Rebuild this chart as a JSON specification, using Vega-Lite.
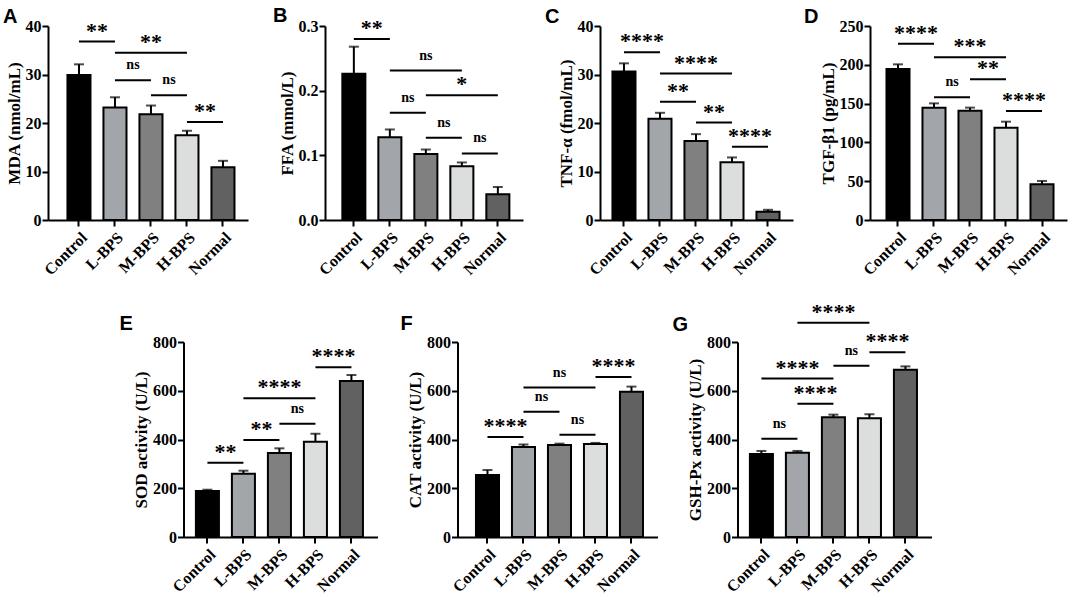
{
  "$schema": "https://vega.github.io/schema/vega-lite/v6.json",
  "description": "Seven bar panels (A-G) with error bars and significance brackets",
  "padding": {"left": 3, "top": 5, "right": 2, "bottom": 0},
  "datasets": {
    "bars": [
      {"panel": "A", "group": "Control", "mean": 29.9, "upper": 32.1},
      {"panel": "A", "group": "L-BPS", "mean": 23.2, "upper": 25.3},
      {"panel": "A", "group": "M-BPS", "mean": 21.8, "upper": 23.6},
      {"panel": "A", "group": "H-BPS", "mean": 17.5, "upper": 18.4},
      {"panel": "A", "group": "Normal", "mean": 10.9, "upper": 12.2},
      {"panel": "B", "group": "Control", "mean": 0.226, "upper": 0.268},
      {"panel": "B", "group": "L-BPS", "mean": 0.128, "upper": 0.14},
      {"panel": "B", "group": "M-BPS", "mean": 0.102, "upper": 0.109},
      {"panel": "B", "group": "H-BPS", "mean": 0.083, "upper": 0.089},
      {"panel": "B", "group": "Normal", "mean": 0.04, "upper": 0.051},
      {"panel": "C", "group": "Control", "mean": 30.6, "upper": 32.3},
      {"panel": "C", "group": "L-BPS", "mean": 20.9, "upper": 22.1},
      {"panel": "C", "group": "M-BPS", "mean": 16.3, "upper": 17.7},
      {"panel": "C", "group": "H-BPS", "mean": 11.9, "upper": 12.9},
      {"panel": "C", "group": "Normal", "mean": 1.7, "upper": 2.1},
      {"panel": "D", "group": "Control", "mean": 194.6, "upper": 200.6},
      {"panel": "D", "group": "L-BPS", "mean": 144.8, "upper": 150.3},
      {"panel": "D", "group": "M-BPS", "mean": 140.9, "upper": 144.8},
      {"panel": "D", "group": "H-BPS", "mean": 119.0, "upper": 126.7},
      {"panel": "D", "group": "Normal", "mean": 46.0, "upper": 50.3},
      {"panel": "E", "group": "Control", "mean": 188.7, "upper": 194},
      {"panel": "E", "group": "L-BPS", "mean": 259.8, "upper": 272},
      {"panel": "E", "group": "M-BPS", "mean": 344.6, "upper": 363.8},
      {"panel": "E", "group": "H-BPS", "mean": 391.1, "upper": 424},
      {"panel": "E", "group": "Normal", "mean": 640, "upper": 664.6},
      {"panel": "F", "group": "Control", "mean": 254, "upper": 275},
      {"panel": "F", "group": "L-BPS", "mean": 369, "upper": 380},
      {"panel": "F", "group": "M-BPS", "mean": 377, "upper": 383},
      {"panel": "F", "group": "H-BPS", "mean": 381.5, "upper": 386},
      {"panel": "F", "group": "Normal", "mean": 596, "upper": 617},
      {"panel": "G", "group": "Control", "mean": 340.5, "upper": 353},
      {"panel": "G", "group": "L-BPS", "mean": 346, "upper": 353},
      {"panel": "G", "group": "M-BPS", "mean": 491, "upper": 502},
      {"panel": "G", "group": "H-BPS", "mean": 487, "upper": 504},
      {"panel": "G", "group": "Normal", "mean": 686.5, "upper": 700}
    ],
    "sig": [
      {"panel": "A", "g1": "Control", "g2": "L-BPS", "mid": "Control", "span": 1, "line": 36.8, "label": "**"},
      {"panel": "A", "g1": "L-BPS", "g2": "H-BPS", "mid": "M-BPS", "span": 2, "line": 34.5, "label": "**"},
      {"panel": "A", "g1": "L-BPS", "g2": "M-BPS", "mid": "L-BPS", "span": 1, "line": 28.8, "label": "ns"},
      {"panel": "A", "g1": "M-BPS", "g2": "H-BPS", "mid": "M-BPS", "span": 1, "line": 25.7, "label": "ns"},
      {"panel": "A", "g1": "H-BPS", "g2": "Normal", "mid": "H-BPS", "span": 1, "line": 20.2, "label": "**"},
      {"panel": "B", "g1": "Control", "g2": "L-BPS", "mid": "Control", "span": 1, "line": 0.28, "label": "**"},
      {"panel": "B", "g1": "L-BPS", "g2": "H-BPS", "mid": "M-BPS", "span": 2, "line": 0.231, "label": "ns"},
      {"panel": "B", "g1": "M-BPS", "g2": "Normal", "mid": "H-BPS", "span": 2, "line": 0.193, "label": "*"},
      {"panel": "B", "g1": "L-BPS", "g2": "M-BPS", "mid": "L-BPS", "span": 1, "line": 0.166, "label": "ns"},
      {"panel": "B", "g1": "M-BPS", "g2": "H-BPS", "mid": "M-BPS", "span": 1, "line": 0.127, "label": "ns"},
      {"panel": "B", "g1": "H-BPS", "g2": "Normal", "mid": "H-BPS", "span": 1, "line": 0.103, "label": "ns"},
      {"panel": "C", "g1": "Control", "g2": "L-BPS", "mid": "Control", "span": 1, "line": 34.6, "label": "****"},
      {"panel": "C", "g1": "L-BPS", "g2": "H-BPS", "mid": "M-BPS", "span": 2, "line": 30.2, "label": "****"},
      {"panel": "C", "g1": "L-BPS", "g2": "M-BPS", "mid": "L-BPS", "span": 1, "line": 24.4, "label": "**"},
      {"panel": "C", "g1": "M-BPS", "g2": "H-BPS", "mid": "M-BPS", "span": 1, "line": 20.1, "label": "**"},
      {"panel": "C", "g1": "H-BPS", "g2": "Normal", "mid": "H-BPS", "span": 1, "line": 15.1, "label": "****"},
      {"panel": "D", "g1": "Control", "g2": "L-BPS", "mid": "Control", "span": 1, "line": 227.2, "label": "****"},
      {"panel": "D", "g1": "L-BPS", "g2": "H-BPS", "mid": "M-BPS", "span": 2, "line": 209.6, "label": "***"},
      {"panel": "D", "g1": "M-BPS", "g2": "H-BPS", "mid": "M-BPS", "span": 1, "line": 181.3, "label": "**"},
      {"panel": "D", "g1": "L-BPS", "g2": "M-BPS", "mid": "L-BPS", "span": 1, "line": 158.1, "label": "ns"},
      {"panel": "D", "g1": "H-BPS", "g2": "Normal", "mid": "H-BPS", "span": 1, "line": 140.5, "label": "****"},
      {"panel": "E", "g1": "Control", "g2": "L-BPS", "mid": "Control", "span": 1, "line": 305, "label": "**"},
      {"panel": "E", "g1": "L-BPS", "g2": "M-BPS", "mid": "L-BPS", "span": 1, "line": 398, "label": "**"},
      {"panel": "E", "g1": "M-BPS", "g2": "H-BPS", "mid": "M-BPS", "span": 1, "line": 465, "label": "ns"},
      {"panel": "E", "g1": "L-BPS", "g2": "H-BPS", "mid": "M-BPS", "span": 2, "line": 569, "label": "****"},
      {"panel": "E", "g1": "H-BPS", "g2": "Normal", "mid": "H-BPS", "span": 1, "line": 696, "label": "****"},
      {"panel": "F", "g1": "Control", "g2": "L-BPS", "mid": "Control", "span": 1, "line": 410, "label": "****"},
      {"panel": "F", "g1": "L-BPS", "g2": "H-BPS", "mid": "M-BPS", "span": 2, "line": 613, "label": "ns"},
      {"panel": "F", "g1": "L-BPS", "g2": "M-BPS", "mid": "L-BPS", "span": 1, "line": 514, "label": "ns"},
      {"panel": "F", "g1": "M-BPS", "g2": "H-BPS", "mid": "M-BPS", "span": 1, "line": 420, "label": "ns"},
      {"panel": "F", "g1": "H-BPS", "g2": "Normal", "mid": "H-BPS", "span": 1, "line": 656, "label": "****"},
      {"panel": "G", "g1": "Control", "g2": "L-BPS", "mid": "Control", "span": 1, "line": 403, "label": "ns"},
      {"panel": "G", "g1": "L-BPS", "g2": "M-BPS", "mid": "L-BPS", "span": 1, "line": 547, "label": "****"},
      {"panel": "G", "g1": "Control", "g2": "M-BPS", "mid": "L-BPS", "span": 2, "line": 650, "label": "****"},
      {"panel": "G", "g1": "M-BPS", "g2": "H-BPS", "mid": "M-BPS", "span": 1, "line": 703, "label": "ns"},
      {"panel": "G", "g1": "H-BPS", "g2": "Normal", "mid": "H-BPS", "span": 1, "line": 758, "label": "****"},
      {"panel": "G", "g1": "L-BPS", "g2": "H-BPS", "mid": "M-BPS", "span": 2, "line": 879, "label": "****"}
    ]
  },
  "vconcat": [
    {
      "hconcat": [
        {
          "width": 200, "height": 194,
          "title": {"text": "A", "dx": -45, "dy": 14, "offset": 5},
          "layer": [
            {"data": {"name": "bars"}, "transform": [{"filter": "datum.panel === 'A'"}],
             "layer": [
              {"mark": {"type": "bar", "stroke": "#000", "strokeWidth": 2},
               "encoding": {
                "x": {"field": "group", "type": "nominal", "title": null, "scale": {"domain": ["Control", "L-BPS", "M-BPS", "H-BPS", "Normal"], "paddingInner": 0.36, "paddingOuter": 0.458, "align": 0.59}},
                "y": {"field": "mean", "type": "quantitative", "title": "MDA (nmol/mL)", "scale": {"domain": [0, 40], "nice": false}, "axis": {"values": [0, 10, 20, 30, 40], "labelOverlap": false}},
                "fill": {"field": "group", "type": "nominal", "legend": null, "scale": {"domain": ["Control", "L-BPS", "M-BPS", "H-BPS", "Normal"], "range": ["#000000", "#a2a5aa", "#808080", "#dcdede", "#616161"]}}}},
              {"mark": {"type": "rule", "color": "#000", "strokeWidth": 2},
               "encoding": {"x": {"field": "group", "type": "nominal"}, "y": {"field": "mean", "type": "quantitative"}, "y2": {"field": "upper"}}},
              {"mark": {"type": "tick", "color": "#000", "size": 10, "thickness": 2},
               "encoding": {"x": {"field": "group", "type": "nominal"}, "y": {"field": "upper", "type": "quantitative"}}}
             ]},
            {"data": {"name": "sig"}, "transform": [{"filter": "datum.panel === 'A'"}],
             "layer": [
              {"mark": {"type": "rule", "color": "#000", "strokeWidth": 2},
               "encoding": {"x": {"field": "g1", "type": "nominal"}, "x2": {"field": "g2"}, "y": {"field": "line", "type": "quantitative"}}},
              {"transform": [{"filter": "datum.span === 1 && datum.label !== 'ns'"}],
               "mark": {"type": "text", "font": "Liberation Serif", "fontWeight": "bold", "fontSize": 22, "baseline": "alphabetic", "dy": -4, "color": "#000"},
               "encoding": {"x": {"field": "mid", "type": "nominal", "bandPosition": 1.28125}, "y": {"field": "line", "type": "quantitative"}, "text": {"field": "label"}}},
              {"transform": [{"filter": "datum.span === 2 && datum.label !== 'ns'"}],
               "mark": {"type": "text", "font": "Liberation Serif", "fontWeight": "bold", "fontSize": 22, "baseline": "alphabetic", "dy": -4, "color": "#000"},
               "encoding": {"x": {"field": "mid", "type": "nominal", "bandPosition": 0.5}, "y": {"field": "line", "type": "quantitative"}, "text": {"field": "label"}}},
              {"transform": [{"filter": "datum.span === 1 && datum.label === 'ns'"}],
               "mark": {"type": "text", "font": "Liberation Serif", "fontWeight": "bold", "fontSize": 14, "baseline": "alphabetic", "dy": -11, "color": "#000"},
               "encoding": {"x": {"field": "mid", "type": "nominal", "bandPosition": 1.28125}, "y": {"field": "line", "type": "quantitative"}, "text": {"field": "label"}}},
              {"transform": [{"filter": "datum.span === 2 && datum.label === 'ns'"}],
               "mark": {"type": "text", "font": "Liberation Serif", "fontWeight": "bold", "fontSize": 14, "baseline": "alphabetic", "dy": -11, "color": "#000"},
               "encoding": {"x": {"field": "mid", "type": "nominal", "bandPosition": 0.5}, "y": {"field": "line", "type": "quantitative"}, "text": {"field": "label"}}}
             ]}
          ]
        },
        {
          "width": 198, "height": 194,
          "title": {"text": "B", "dx": -52, "dy": 14, "offset": 5},
          "layer": [
            {"data": {"name": "bars"}, "transform": [{"filter": "datum.panel === 'B'"}],
             "layer": [
              {"mark": {"type": "bar", "stroke": "#000", "strokeWidth": 2},
               "encoding": {
                "x": {"field": "group", "type": "nominal", "title": null, "scale": {"domain": ["Control", "L-BPS", "M-BPS", "H-BPS", "Normal"], "paddingInner": 0.36, "paddingOuter": 0.43, "align": 0.56}},
                "y": {"field": "mean", "type": "quantitative", "title": "FFA (mmol/L)", "scale": {"domain": [0, 0.3], "nice": false}, "axis": {"values": [0, 0.1, 0.2, 0.3], "format": ".1f", "labelOverlap": false}},
                "fill": {"field": "group", "type": "nominal", "legend": null, "scale": {"domain": ["Control", "L-BPS", "M-BPS", "H-BPS", "Normal"], "range": ["#000000", "#a2a5aa", "#808080", "#dcdede", "#616161"]}}}},
              {"mark": {"type": "rule", "color": "#000", "strokeWidth": 2},
               "encoding": {"x": {"field": "group", "type": "nominal"}, "y": {"field": "mean", "type": "quantitative"}, "y2": {"field": "upper"}}},
              {"mark": {"type": "tick", "color": "#000", "size": 10, "thickness": 2},
               "encoding": {"x": {"field": "group", "type": "nominal"}, "y": {"field": "upper", "type": "quantitative"}}}
             ]},
            {"data": {"name": "sig"}, "transform": [{"filter": "datum.panel === 'B'"}],
             "layer": [
              {"mark": {"type": "rule", "color": "#000", "strokeWidth": 2},
               "encoding": {"x": {"field": "g1", "type": "nominal"}, "x2": {"field": "g2"}, "y": {"field": "line", "type": "quantitative"}}},
              {"transform": [{"filter": "datum.span === 1 && datum.label !== 'ns'"}],
               "mark": {"type": "text", "font": "Liberation Serif", "fontWeight": "bold", "fontSize": 22, "baseline": "alphabetic", "dy": -4, "color": "#000"},
               "encoding": {"x": {"field": "mid", "type": "nominal", "bandPosition": 1.28125}, "y": {"field": "line", "type": "quantitative"}, "text": {"field": "label"}}},
              {"transform": [{"filter": "datum.span === 2 && datum.label !== 'ns'"}],
               "mark": {"type": "text", "font": "Liberation Serif", "fontWeight": "bold", "fontSize": 22, "baseline": "alphabetic", "dy": -4, "color": "#000"},
               "encoding": {"x": {"field": "mid", "type": "nominal", "bandPosition": 0.5}, "y": {"field": "line", "type": "quantitative"}, "text": {"field": "label"}}},
              {"transform": [{"filter": "datum.span === 1 && datum.label === 'ns'"}],
               "mark": {"type": "text", "font": "Liberation Serif", "fontWeight": "bold", "fontSize": 14, "baseline": "alphabetic", "dy": -11, "color": "#000"},
               "encoding": {"x": {"field": "mid", "type": "nominal", "bandPosition": 1.28125}, "y": {"field": "line", "type": "quantitative"}, "text": {"field": "label"}}},
              {"transform": [{"filter": "datum.span === 2 && datum.label === 'ns'"}],
               "mark": {"type": "text", "font": "Liberation Serif", "fontWeight": "bold", "fontSize": 14, "baseline": "alphabetic", "dy": -11, "color": "#000"},
               "encoding": {"x": {"field": "mid", "type": "nominal", "bandPosition": 0.5}, "y": {"field": "line", "type": "quantitative"}, "text": {"field": "label"}}}
             ]}
          ]
        },
        {
          "width": 193, "height": 194,
          "title": {"text": "C", "dx": -55, "dy": 14, "offset": 5},
          "layer": [
            {"data": {"name": "bars"}, "transform": [{"filter": "datum.panel === 'C'"}],
             "layer": [
              {"mark": {"type": "bar", "stroke": "#000", "strokeWidth": 2},
               "encoding": {
                "x": {"field": "group", "type": "nominal", "title": null, "scale": {"domain": ["Control", "L-BPS", "M-BPS", "H-BPS", "Normal"], "paddingInner": 0.36, "paddingOuter": 0.36, "align": 0.48}},
                "y": {"field": "mean", "type": "quantitative", "title": "TNF-α (fmol/mL)", "scale": {"domain": [0, 40], "nice": false}, "axis": {"values": [0, 10, 20, 30, 40], "labelOverlap": false}},
                "fill": {"field": "group", "type": "nominal", "legend": null, "scale": {"domain": ["Control", "L-BPS", "M-BPS", "H-BPS", "Normal"], "range": ["#000000", "#a2a5aa", "#808080", "#dcdede", "#616161"]}}}},
              {"mark": {"type": "rule", "color": "#000", "strokeWidth": 2},
               "encoding": {"x": {"field": "group", "type": "nominal"}, "y": {"field": "mean", "type": "quantitative"}, "y2": {"field": "upper"}}},
              {"mark": {"type": "tick", "color": "#000", "size": 10, "thickness": 2},
               "encoding": {"x": {"field": "group", "type": "nominal"}, "y": {"field": "upper", "type": "quantitative"}}}
             ]},
            {"data": {"name": "sig"}, "transform": [{"filter": "datum.panel === 'C'"}],
             "layer": [
              {"mark": {"type": "rule", "color": "#000", "strokeWidth": 2},
               "encoding": {"x": {"field": "g1", "type": "nominal"}, "x2": {"field": "g2"}, "y": {"field": "line", "type": "quantitative"}}},
              {"transform": [{"filter": "datum.span === 1 && datum.label !== 'ns'"}],
               "mark": {"type": "text", "font": "Liberation Serif", "fontWeight": "bold", "fontSize": 22, "baseline": "alphabetic", "dy": -4, "color": "#000"},
               "encoding": {"x": {"field": "mid", "type": "nominal", "bandPosition": 1.28125}, "y": {"field": "line", "type": "quantitative"}, "text": {"field": "label"}}},
              {"transform": [{"filter": "datum.span === 2 && datum.label !== 'ns'"}],
               "mark": {"type": "text", "font": "Liberation Serif", "fontWeight": "bold", "fontSize": 22, "baseline": "alphabetic", "dy": -4, "color": "#000"},
               "encoding": {"x": {"field": "mid", "type": "nominal", "bandPosition": 0.5}, "y": {"field": "line", "type": "quantitative"}, "text": {"field": "label"}}},
              {"transform": [{"filter": "datum.span === 1 && datum.label === 'ns'"}],
               "mark": {"type": "text", "font": "Liberation Serif", "fontWeight": "bold", "fontSize": 14, "baseline": "alphabetic", "dy": -11, "color": "#000"},
               "encoding": {"x": {"field": "mid", "type": "nominal", "bandPosition": 1.28125}, "y": {"field": "line", "type": "quantitative"}, "text": {"field": "label"}}},
              {"transform": [{"filter": "datum.span === 2 && datum.label === 'ns'"}],
               "mark": {"type": "text", "font": "Liberation Serif", "fontWeight": "bold", "fontSize": 14, "baseline": "alphabetic", "dy": -11, "color": "#000"},
               "encoding": {"x": {"field": "mid", "type": "nominal", "bandPosition": 0.5}, "y": {"field": "line", "type": "quantitative"}, "text": {"field": "label"}}}
             ]}
          ]
        },
        {
          "width": 197, "height": 194,
          "title": {"text": "D", "dx": -66, "dy": 14, "offset": 5},
          "layer": [
            {"data": {"name": "bars"}, "transform": [{"filter": "datum.panel === 'D'"}],
             "layer": [
              {"mark": {"type": "bar", "stroke": "#000", "strokeWidth": 2},
               "encoding": {
                "x": {"field": "group", "type": "nominal", "title": null, "scale": {"domain": ["Control", "L-BPS", "M-BPS", "H-BPS", "Normal"], "paddingInner": 0.36, "paddingOuter": 0.416, "align": 0.55}},
                "y": {"field": "mean", "type": "quantitative", "title": "TGF-β1 (pg/mL)", "scale": {"domain": [0, 250], "nice": false}, "axis": {"values": [0, 50, 100, 150, 200, 250], "tickCount": 6, "labelOverlap": false, "labelSeparation": 0}},
                "fill": {"field": "group", "type": "nominal", "legend": null, "scale": {"domain": ["Control", "L-BPS", "M-BPS", "H-BPS", "Normal"], "range": ["#000000", "#a2a5aa", "#808080", "#dcdede", "#616161"]}}}},
              {"mark": {"type": "rule", "color": "#000", "strokeWidth": 2},
               "encoding": {"x": {"field": "group", "type": "nominal"}, "y": {"field": "mean", "type": "quantitative"}, "y2": {"field": "upper"}}},
              {"mark": {"type": "tick", "color": "#000", "size": 10, "thickness": 2},
               "encoding": {"x": {"field": "group", "type": "nominal"}, "y": {"field": "upper", "type": "quantitative"}}}
             ]},
            {"data": {"name": "sig"}, "transform": [{"filter": "datum.panel === 'D'"}],
             "layer": [
              {"mark": {"type": "rule", "color": "#000", "strokeWidth": 2},
               "encoding": {"x": {"field": "g1", "type": "nominal"}, "x2": {"field": "g2"}, "y": {"field": "line", "type": "quantitative"}}},
              {"transform": [{"filter": "datum.span === 1 && datum.label !== 'ns'"}],
               "mark": {"type": "text", "font": "Liberation Serif", "fontWeight": "bold", "fontSize": 22, "baseline": "alphabetic", "dy": -4, "color": "#000"},
               "encoding": {"x": {"field": "mid", "type": "nominal", "bandPosition": 1.28125}, "y": {"field": "line", "type": "quantitative"}, "text": {"field": "label"}}},
              {"transform": [{"filter": "datum.span === 2 && datum.label !== 'ns'"}],
               "mark": {"type": "text", "font": "Liberation Serif", "fontWeight": "bold", "fontSize": 22, "baseline": "alphabetic", "dy": -4, "color": "#000"},
               "encoding": {"x": {"field": "mid", "type": "nominal", "bandPosition": 0.5}, "y": {"field": "line", "type": "quantitative"}, "text": {"field": "label"}}},
              {"transform": [{"filter": "datum.span === 1 && datum.label === 'ns'"}],
               "mark": {"type": "text", "font": "Liberation Serif", "fontWeight": "bold", "fontSize": 14, "baseline": "alphabetic", "dy": -11, "color": "#000"},
               "encoding": {"x": {"field": "mid", "type": "nominal", "bandPosition": 1.28125}, "y": {"field": "line", "type": "quantitative"}, "text": {"field": "label"}}},
              {"transform": [{"filter": "datum.span === 2 && datum.label === 'ns'"}],
               "mark": {"type": "text", "font": "Liberation Serif", "fontWeight": "bold", "fontSize": 14, "baseline": "alphabetic", "dy": -11, "color": "#000"},
               "encoding": {"x": {"field": "mid", "type": "nominal", "bandPosition": 0.5}, "y": {"field": "line", "type": "quantitative"}, "text": {"field": "label"}}}
             ]}
          ]
        }
      ],
      "spacing": 77,
      "bounds": "flush"
    },
    {
      "hconcat": [
        {
          "width": 194, "height": 195,
          "title": {"text": "E", "dx": -64, "dy": 12, "offset": 12},
          "layer": [
            {"data": {"name": "bars"}, "transform": [{"filter": "datum.panel === 'E'"}],
             "layer": [
              {"mark": {"type": "bar", "stroke": "#000", "strokeWidth": 2},
               "encoding": {
                "x": {"field": "group", "type": "nominal", "title": null, "scale": {"domain": ["Control", "L-BPS", "M-BPS", "H-BPS", "Normal"], "paddingInner": 0.36, "paddingOuter": 0.374, "align": 0.46}},
                "y": {"field": "mean", "type": "quantitative", "title": "SOD activity (U/L)", "scale": {"domain": [0, 800], "nice": false}, "axis": {"values": [0, 200, 400, 600, 800], "labelOverlap": false}},
                "fill": {"field": "group", "type": "nominal", "legend": null, "scale": {"domain": ["Control", "L-BPS", "M-BPS", "H-BPS", "Normal"], "range": ["#000000", "#a2a5aa", "#808080", "#dcdede", "#616161"]}}}},
              {"mark": {"type": "rule", "color": "#000", "strokeWidth": 2},
               "encoding": {"x": {"field": "group", "type": "nominal"}, "y": {"field": "mean", "type": "quantitative"}, "y2": {"field": "upper"}}},
              {"mark": {"type": "tick", "color": "#000", "size": 10, "thickness": 2},
               "encoding": {"x": {"field": "group", "type": "nominal"}, "y": {"field": "upper", "type": "quantitative"}}}
             ]},
            {"data": {"name": "sig"}, "transform": [{"filter": "datum.panel === 'E'"}],
             "layer": [
              {"mark": {"type": "rule", "color": "#000", "strokeWidth": 2},
               "encoding": {"x": {"field": "g1", "type": "nominal"}, "x2": {"field": "g2"}, "y": {"field": "line", "type": "quantitative"}}},
              {"transform": [{"filter": "datum.span === 1 && datum.label !== 'ns'"}],
               "mark": {"type": "text", "font": "Liberation Serif", "fontWeight": "bold", "fontSize": 22, "baseline": "alphabetic", "dy": -4, "color": "#000"},
               "encoding": {"x": {"field": "mid", "type": "nominal", "bandPosition": 1.28125}, "y": {"field": "line", "type": "quantitative"}, "text": {"field": "label"}}},
              {"transform": [{"filter": "datum.span === 2 && datum.label !== 'ns'"}],
               "mark": {"type": "text", "font": "Liberation Serif", "fontWeight": "bold", "fontSize": 22, "baseline": "alphabetic", "dy": -4, "color": "#000"},
               "encoding": {"x": {"field": "mid", "type": "nominal", "bandPosition": 0.5}, "y": {"field": "line", "type": "quantitative"}, "text": {"field": "label"}}},
              {"transform": [{"filter": "datum.span === 1 && datum.label === 'ns'"}],
               "mark": {"type": "text", "font": "Liberation Serif", "fontWeight": "bold", "fontSize": 14, "baseline": "alphabetic", "dy": -11, "color": "#000"},
               "encoding": {"x": {"field": "mid", "type": "nominal", "bandPosition": 1.28125}, "y": {"field": "line", "type": "quantitative"}, "text": {"field": "label"}}},
              {"transform": [{"filter": "datum.span === 2 && datum.label === 'ns'"}],
               "mark": {"type": "text", "font": "Liberation Serif", "fontWeight": "bold", "fontSize": 14, "baseline": "alphabetic", "dy": -11, "color": "#000"},
               "encoding": {"x": {"field": "mid", "type": "nominal", "bandPosition": 0.5}, "y": {"field": "line", "type": "quantitative"}, "text": {"field": "label"}}}
             ]}
          ]
        },
        {
          "width": 200, "height": 195,
          "title": {"text": "F", "dx": -57, "dy": 12, "offset": 12},
          "layer": [
            {"data": {"name": "bars"}, "transform": [{"filter": "datum.panel === 'F'"}],
             "layer": [
              {"mark": {"type": "bar", "stroke": "#000", "strokeWidth": 2},
               "encoding": {
                "x": {"field": "group", "type": "nominal", "title": null, "scale": {"domain": ["Control", "L-BPS", "M-BPS", "H-BPS", "Normal"], "paddingInner": 0.36, "paddingOuter": 0.458, "align": 0.56}},
                "y": {"field": "mean", "type": "quantitative", "title": "CAT activity (U/L)", "scale": {"domain": [0, 800], "nice": false}, "axis": {"values": [0, 200, 400, 600, 800], "labelOverlap": false}},
                "fill": {"field": "group", "type": "nominal", "legend": null, "scale": {"domain": ["Control", "L-BPS", "M-BPS", "H-BPS", "Normal"], "range": ["#000000", "#a2a5aa", "#808080", "#dcdede", "#616161"]}}}},
              {"mark": {"type": "rule", "color": "#000", "strokeWidth": 2},
               "encoding": {"x": {"field": "group", "type": "nominal"}, "y": {"field": "mean", "type": "quantitative"}, "y2": {"field": "upper"}}},
              {"mark": {"type": "tick", "color": "#000", "size": 10, "thickness": 2},
               "encoding": {"x": {"field": "group", "type": "nominal"}, "y": {"field": "upper", "type": "quantitative"}}}
             ]},
            {"data": {"name": "sig"}, "transform": [{"filter": "datum.panel === 'F'"}],
             "layer": [
              {"mark": {"type": "rule", "color": "#000", "strokeWidth": 2},
               "encoding": {"x": {"field": "g1", "type": "nominal"}, "x2": {"field": "g2"}, "y": {"field": "line", "type": "quantitative"}}},
              {"transform": [{"filter": "datum.span === 1 && datum.label !== 'ns'"}],
               "mark": {"type": "text", "font": "Liberation Serif", "fontWeight": "bold", "fontSize": 22, "baseline": "alphabetic", "dy": -4, "color": "#000"},
               "encoding": {"x": {"field": "mid", "type": "nominal", "bandPosition": 1.28125}, "y": {"field": "line", "type": "quantitative"}, "text": {"field": "label"}}},
              {"transform": [{"filter": "datum.span === 2 && datum.label !== 'ns'"}],
               "mark": {"type": "text", "font": "Liberation Serif", "fontWeight": "bold", "fontSize": 22, "baseline": "alphabetic", "dy": -4, "color": "#000"},
               "encoding": {"x": {"field": "mid", "type": "nominal", "bandPosition": 0.5}, "y": {"field": "line", "type": "quantitative"}, "text": {"field": "label"}}},
              {"transform": [{"filter": "datum.span === 1 && datum.label === 'ns'"}],
               "mark": {"type": "text", "font": "Liberation Serif", "fontWeight": "bold", "fontSize": 14, "baseline": "alphabetic", "dy": -11, "color": "#000"},
               "encoding": {"x": {"field": "mid", "type": "nominal", "bandPosition": 1.28125}, "y": {"field": "line", "type": "quantitative"}, "text": {"field": "label"}}},
              {"transform": [{"filter": "datum.span === 2 && datum.label === 'ns'"}],
               "mark": {"type": "text", "font": "Liberation Serif", "fontWeight": "bold", "fontSize": 14, "baseline": "alphabetic", "dy": -11, "color": "#000"},
               "encoding": {"x": {"field": "mid", "type": "nominal", "bandPosition": 0.5}, "y": {"field": "line", "type": "quantitative"}, "text": {"field": "label"}}}
             ]}
          ]
        },
        {
          "width": 194, "height": 195,
          "title": {"text": "G", "dx": -65, "dy": 46, "offset": 12},
          "layer": [
            {"data": {"name": "bars"}, "transform": [{"filter": "datum.panel === 'G'"}],
             "layer": [
              {"mark": {"type": "bar", "stroke": "#000", "strokeWidth": 2},
               "encoding": {
                "x": {"field": "group", "type": "nominal", "title": null, "scale": {"domain": ["Control", "L-BPS", "M-BPS", "H-BPS", "Normal"], "paddingInner": 0.36, "paddingOuter": 0.374, "align": 0.46}},
                "y": {"field": "mean", "type": "quantitative", "title": "GSH-Px activity (U/L)", "scale": {"domain": [0, 800], "nice": false}, "axis": {"values": [0, 200, 400, 600, 800], "labelOverlap": false}},
                "fill": {"field": "group", "type": "nominal", "legend": null, "scale": {"domain": ["Control", "L-BPS", "M-BPS", "H-BPS", "Normal"], "range": ["#000000", "#a2a5aa", "#808080", "#dcdede", "#616161"]}}}},
              {"mark": {"type": "rule", "color": "#000", "strokeWidth": 2},
               "encoding": {"x": {"field": "group", "type": "nominal"}, "y": {"field": "mean", "type": "quantitative"}, "y2": {"field": "upper"}}},
              {"mark": {"type": "tick", "color": "#000", "size": 10, "thickness": 2},
               "encoding": {"x": {"field": "group", "type": "nominal"}, "y": {"field": "upper", "type": "quantitative"}}}
             ]},
            {"data": {"name": "sig"}, "transform": [{"filter": "datum.panel === 'G'"}],
             "layer": [
              {"mark": {"type": "rule", "color": "#000", "strokeWidth": 2},
               "encoding": {"x": {"field": "g1", "type": "nominal"}, "x2": {"field": "g2"}, "y": {"field": "line", "type": "quantitative"}}},
              {"transform": [{"filter": "datum.span === 1 && datum.label !== 'ns'"}],
               "mark": {"type": "text", "font": "Liberation Serif", "fontWeight": "bold", "fontSize": 22, "baseline": "alphabetic", "dy": -4, "color": "#000"},
               "encoding": {"x": {"field": "mid", "type": "nominal", "bandPosition": 1.28125}, "y": {"field": "line", "type": "quantitative"}, "text": {"field": "label"}}},
              {"transform": [{"filter": "datum.span === 2 && datum.label !== 'ns'"}],
               "mark": {"type": "text", "font": "Liberation Serif", "fontWeight": "bold", "fontSize": 22, "baseline": "alphabetic", "dy": -4, "color": "#000"},
               "encoding": {"x": {"field": "mid", "type": "nominal", "bandPosition": 0.5}, "y": {"field": "line", "type": "quantitative"}, "text": {"field": "label"}}},
              {"transform": [{"filter": "datum.span === 1 && datum.label === 'ns'"}],
               "mark": {"type": "text", "font": "Liberation Serif", "fontWeight": "bold", "fontSize": 14, "baseline": "alphabetic", "dy": -11, "color": "#000"},
               "encoding": {"x": {"field": "mid", "type": "nominal", "bandPosition": 1.28125}, "y": {"field": "line", "type": "quantitative"}, "text": {"field": "label"}}},
              {"transform": [{"filter": "datum.span === 2 && datum.label === 'ns'"}],
               "mark": {"type": "text", "font": "Liberation Serif", "fontWeight": "bold", "fontSize": 14, "baseline": "alphabetic", "dy": -11, "color": "#000"},
               "encoding": {"x": {"field": "mid", "type": "nominal", "bandPosition": 0.5}, "y": {"field": "line", "type": "quantitative"}, "text": {"field": "label"}}}
             ]}
          ]
        }
      ],
      "spacing": 80,
      "bounds": "flush"
    }
  ],
  "spacing": 22,
  "center": true,
  "config": {
    "view": {"stroke": null},
    "axis": {
      "grid": false,
      "domainColor": "#000", "domainWidth": 2,
      "tickColor": "#000", "tickWidth": 2, "tickSize": 6,
      "labelColor": "#000", "labelFont": "Liberation Serif", "labelFontWeight": "bold", "labelFontSize": 16, "labelPadding": 1, "labelOverlap": false,
      "titleColor": "#000", "titleFont": "Liberation Serif", "titleFontWeight": "bold", "titleFontSize": 17, "titlePadding": 2
    },
    "axisX": {"labelAngle": -45, "labelPadding": 3},
    "title": {"font": "Liberation Sans", "fontWeight": "bold", "fontSize": 20, "anchor": "start", "frame": "group", "color": "#000", "baseline": "alphabetic"}
  }
}
